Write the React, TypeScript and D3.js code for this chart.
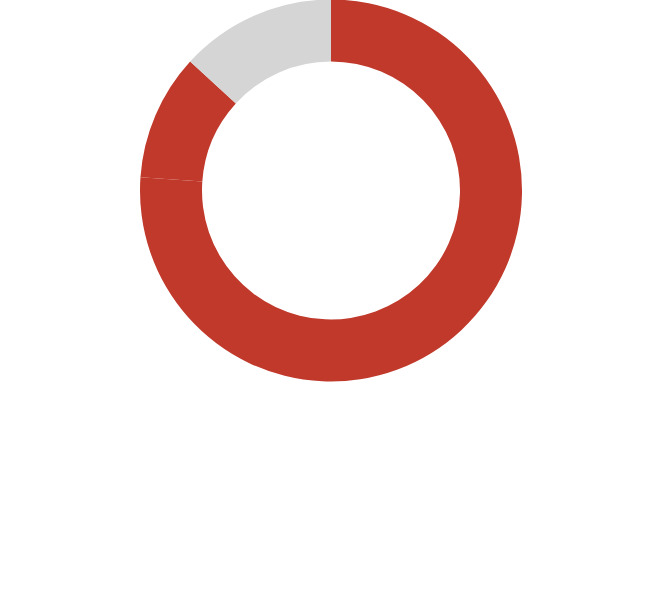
import React, { useEffect, useRef } from 'react';
import * as d3 from 'd3';

const labels = ['A', 'B', 'C'];
const values = [76.1, 10.7, 13.2];
const colors = ['#c0392b', '#c0392b', '#d5d5d5'];

export default function App() {
  const ref = useRef<SVGSVGElement | null>(null);

  useEffect(() => {
    document.body.style.margin = '0';
    const width = 667;
    const height = 596;
    const cx = 331;
    const cy = 190.5;
    const outer = 191;
    const inner = 129;

    const svg = d3.select(ref.current)
      .attr('width', width)
      .attr('height', height);
    svg.selectAll('*').remove();

    const data = labels.map((l, i) => ({ label: l, value: values[i], color: colors[i] }));

    const pie = d3.pie<any>()
      .sort(null)
      .value(d => d.value);

    const arc = d3.arc<any>()
      .innerRadius(inner)
      .outerRadius(outer);

    svg.append('g')
      .attr('transform', `translate(${cx},${cy})`)
      .selectAll('path')
      .data(pie(data))
      .join('path')
      .attr('d', arc)
      .attr('fill', d => d.data.color)
      .attr('stroke', 'none');
  }, []);

  return (
    <div>
      <svg ref={ref} style={{ display: 'block' }}></svg>
    </div>
  );
}
